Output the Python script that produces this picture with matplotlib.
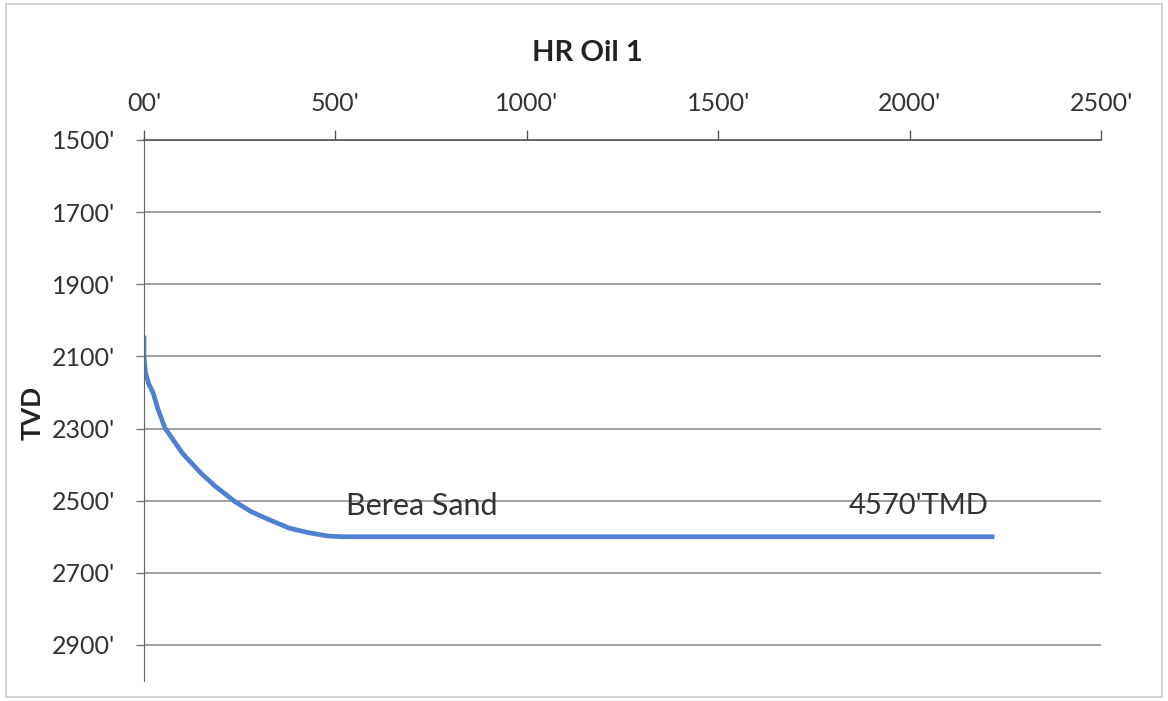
import matplotlib.pyplot as plt
from matplotlib.patches import Rectangle
from matplotlib.ticker import FixedLocator, FuncFormatter

# well path (horizontal displacement vs true vertical depth)
displacement = [0, 0, 2, 4, 12, 24, 37, 55, 100, 148, 186, 238, 279, 327, 379, 431, 480, 520, 2215]
tvd = [2049, 2096, 2125, 2146, 2175, 2202, 2248, 2299, 2368, 2423, 2460, 2503, 2530, 2553,
       2576, 2589, 2598, 2600, 2600]

x_ticks = [0, 500, 1000, 1500, 2000, 2500]
y_ticks = [1500, 1700, 1900, 2100, 2300, 2500, 2700, 2900]

plt.rcParams['font.family'] = ['Lato', 'DejaVu Sans']

fig = plt.figure(figsize=(11.68, 7.01), dpi=100)
ax = fig.add_axes([0.1233, 0.0285, 0.8195, 0.7718])

ax.plot(displacement, tvd, color='#4f80d2', lw=3.4, solid_joinstyle='round')

ax.set_xlim(0, 2500)
ax.set_ylim(3000, 1500)
ax.xaxis.set_major_locator(FixedLocator(x_ticks))
ax.yaxis.set_major_locator(FixedLocator(y_ticks))
ax.xaxis.set_major_formatter(FuncFormatter(lambda v, p: "00'" if v == 0 else f"{int(v)}'"))
ax.yaxis.set_major_formatter(FuncFormatter(lambda v, p: f"{int(v)}'"))
ax.xaxis.tick_top()
ax.tick_params(axis='x', direction='out', length=7, width=1, color='#555555',
               labelsize=18, pad=11, labelcolor='#333333')
ax.tick_params(axis='y', direction='out', length=6, width=1, color='#777777',
               labelsize=18, pad=15, labelcolor='#333333')

for s in ['right', 'bottom']:
    ax.spines[s].set_visible(False)
ax.spines['left'].set_color('#666666')
ax.spines['top'].set_color('#555555')
ax.spines['top'].set_linewidth(1.2)
ax.grid(axis='y', color='#858585', lw=1.1)
ax.set_axisbelow(True)

fig.text(33 / 1168, 1 - 413 / 701, 'TVD', rotation=90, ha='center', va='center',
         fontsize=19, fontweight='bold', color='#222222')
fig.text(0.503, 0.924, 'HR Oil 1', ha='center', va='center', fontsize=21,
         fontweight='bold', color='#222222')

ax.text(527, 2516, 'Berea Sand', fontsize=22, color='#333333', ha='left', va='center')
ax.text(2205, 2516, "4570'TMD", fontsize=21, color='#333333', ha='right', va='center')

fig.add_artist(Rectangle((0.005, 0.005), 0.99, 0.99, transform=fig.transFigure,
                         fill=False, ec='#c8c8c8', lw=1.2))

fig.savefig('out.png', dpi=100)
